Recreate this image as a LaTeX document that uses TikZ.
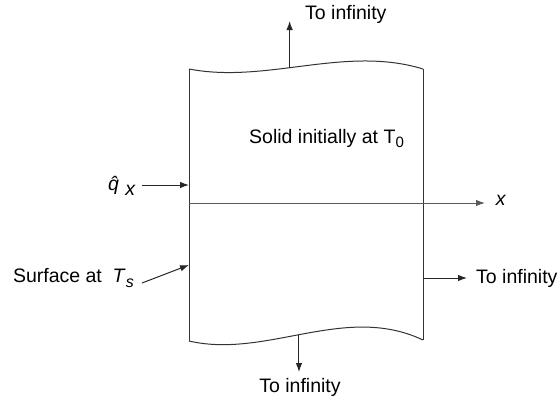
\documentclass[tikz,border=0pt]{standalone}
\usepackage{fontspec}
\setmainfont{Liberation Sans}
\usetikzlibrary{arrows.meta}
\begin{document}
\begin{tikzpicture}[x=1pt,y=-1pt,
  lbl/.style={inner sep=0pt,font=\fontsize{19.5}{22}\selectfont},
  edge/.style={draw=black!80,line width=1pt},
  arr/.style={draw=black!85,line width=1pt,-{Latex[length=9pt,width=6.5pt]}}]
\useasboundingbox (0,0) rectangle (559,402);
% box
\coordinate (tl) at (189,69);
\coordinate (tr) at (423,69);
\coordinate (bl) at (189,341);
\coordinate (br) at (423,340);
\draw[edge] (tl) .. controls (267,84) and (345,45) .. (tr) coordinate[pos=0.43] (topmid);
\draw[edge] (bl) .. controls (267,359) and (345,303) .. (br) coordinate[pos=0.47] (botmid);
\draw[edge] (tl) -- (bl);
\draw[edge] (tr) -- (br);
% top
\coordinate (toptip) at (topmid |- 0,21);
\node[lbl,anchor=west] (toplbl) at (305,14) {To infinity};
\draw[arr] (topmid) -- (toptip);
% bottom
\coordinate (bottip) at (botmid |- 0,372);
\node[lbl] (botlbl) at (300,387) {To infinity};
\draw[arr] (botmid) -- (bottip);
% x axis
\coordinate (xstart) at (189,203);
\coordinate (xend) at (485,203);
\draw[arr,draw=black!65] (xstart) -- (xend);
\node[lbl] (xlbl) at (501,200) {\textit{x}};
% right
\coordinate (rstart) at (423,278);
\coordinate (rend) at (467,278);
\draw[arr] (rstart) -- (rend);
\node[lbl,anchor=west] (rlbl) at (476,278) {To infinity};
% solid
\node[lbl,anchor=base west] (solid) at (249,143) {Solid initially at T\raisebox{-0.45ex}{\fontsize{15}{16}\selectfont 0}};
% q
\node[lbl] (qlbl) at (122,186) {\textit{\^q}\raisebox{-0.45ex}{\,\textit{x}}};
\coordinate (qstart) at (142,185);
\coordinate (qend) at (189,185);
\draw[arr] (qstart) -- (qend);
% surface
\node[lbl,anchor=east] (surf) at (134,278) {Surface at \ \textit{T}\raisebox{-0.5ex}{\fontsize{16}{17}\selectfont\textit{s}}};
\coordinate (sstart) at (142,283);
\coordinate (send) at (189,265);
\draw[arr] (sstart) -- (send);
\end{tikzpicture}
\end{document}
